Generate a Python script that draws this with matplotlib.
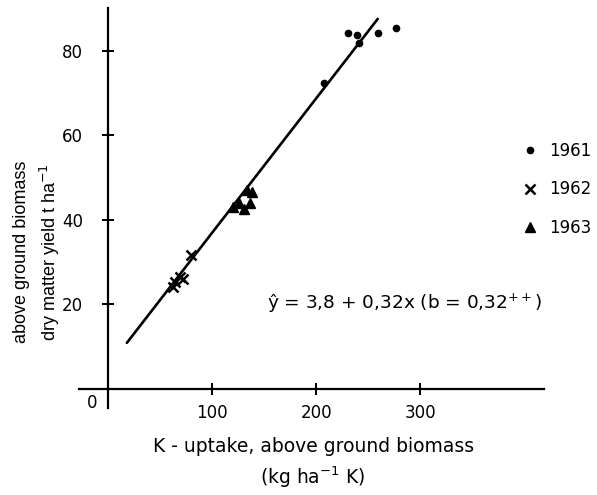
import matplotlib
matplotlib.use("Agg")
import matplotlib.pyplot as plt

# data
k_1961 = [207, 230, 239, 241, 259, 277]
y_1961 = [72.4, 84.1, 83.7, 81.8, 84.1, 85.3]

k_1962 = [62, 64, 69, 72, 80]
y_1962 = [24.2, 25.4, 26.5, 26.1, 31.7]

k_1963 = [120, 126, 131, 133, 138, 136]
y_1963 = [43.1, 43.9, 42.5, 47.0, 46.6, 44.0]

# ends of the fitted line y = 3,8 + 0,32x
fit_x = [18, 259]
fit_y = [10.9, 87.5]

x_ticks = [100, 200, 300]
y_ticks = [20, 40, 60, 80]

plt.rcParams["font.family"] = ["DejaVu Sans"]
plt.rcParams["mathtext.fontset"] = "dejavusans"

fig = plt.figure(figsize=(5.97, 4.95), dpi=100)
ax = fig.add_axes([0.1323, 0.1758, 0.9117 - 0.1323, 0.9832 - 0.1758])

ax.set_xlim(-28, 419)
ax.set_ylim(-4.5, 90)

ax.spines["left"].set_position(("data", 0))
ax.spines["bottom"].set_position(("data", 0))
ax.spines["right"].set_visible(False)
ax.spines["top"].set_visible(False)
for s in ["left", "bottom"]:
    ax.spines[s].set_linewidth(1.6)

ax.set_xticks(x_ticks)
ax.set_yticks(y_ticks)
ax.tick_params(axis="both", direction="inout", length=8, width=1.4, labelsize=12)
ax.tick_params(axis="y", pad=14)
ax.tick_params(axis="x", pad=7)

ax.plot(fit_x, fit_y, color="black", lw=1.9, solid_capstyle="round")

h1, = ax.plot(k_1961, y_1961, "o", color="black", ms=4.5, ls="none", label="1961")
h2, = ax.plot(k_1962, y_1962, "x", color="black", ms=6.5, mew=1.8, ls="none", label="1962")
h3, = ax.plot(k_1963, y_1963, "^", color="black", ms=7, ls="none", label="1963")

ax.text(-15, -3.4, "0", fontsize=12, ha="center", va="center")

ax.text(417, 20.3, "ŷ = 3,8 + 0,32x (b = 0,32$^{++}$)", fontsize=13.3,
        ha="right", va="center")

fig.legend(handles=[h1, h2, h3], loc="center left",
           bbox_to_anchor=(512 / 597, 1 - 189.5 / 495), frameon=False,
           fontsize=12, handlelength=1.2, handletextpad=0.5,
           labelspacing=1.25, borderpad=0)

# two-line axis titles
fig.text(22 / 597, 1 - 252 / 495, "above ground biomass", rotation=90,
         ha="center", va="center", fontsize=13, family="Liberation Sans")
fig.text(50 / 597, 1 - 252 / 495, "dry matter yield t ha$^{-1}$", rotation=90,
         ha="center", va="center", fontsize=13, family="Liberation Sans")

fig.text(314 / 597, 1 - 447 / 495, "K - uptake, above ground biomass",
         ha="center", va="center", fontsize=13.5)
fig.text(313 / 597, 1 - 477 / 495, "(kg ha$^{-1}$ K)",
         ha="center", va="center", fontsize=13.5)

fig.savefig("out.png", dpi=100)
